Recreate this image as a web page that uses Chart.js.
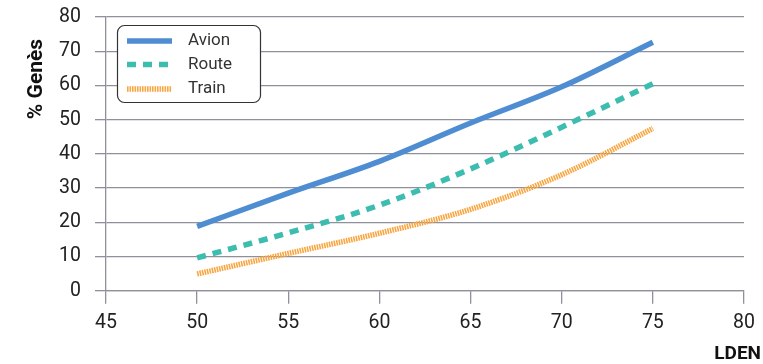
<!DOCTYPE html>
<html>
<head>
<meta charset="utf-8">
<script src="https://cdn.jsdelivr.net/npm/chart.js@4"></script>
<style>
  html, body { margin: 0; padding: 0; background: #fff; }
</style>
</head>
<body>
<canvas id="chart" width="763" height="364"></canvas>
<script>
// LDEN (dB) and % of people annoyed, per transport mode
const lden = [50, 55, 60, 65, 70, 75];
const avion = [18.8, 28.5, 37.8, 49.0, 59.6, 72.6];
const route = [9.6, 16.9, 25.0, 35.6, 47.8, 60.5];
const train = [4.9, 10.9, 16.8, 23.8, 33.9, 47.4];
const xTicks = [45, 50, 55, 60, 65, 70, 75, 80];
const yTicks = [0, 10, 20, 30, 40, 50, 60, 70, 80];

const gridColor = '#8e909b';
const font = 'Roboto';

const toPoints = (vals) => vals.map((v, i) => ({ x: lden[i], y: v }));

// legend in a rounded box + axis titles
const extras = {
    id: 'extras',
    afterDraw(chart) {
        const ctx = chart.ctx;
        ctx.save();

        // y title
        ctx.fillStyle = '#111';
        ctx.font = `bold 21px ${font}`;
        ctx.translate(37, 79);
        ctx.rotate(-Math.PI / 2);
        ctx.textAlign = 'center';
        ctx.textBaseline = 'middle';
        ctx.fillText('% Genès', 0, 0);
        ctx.setTransform(1, 0, 0, 1, 0, 0);

        // x title
        ctx.font = `bold 19px ${font}`;
        ctx.textAlign = 'right';
        ctx.fillText('LDEN', 761, 354);

        // legend box
        ctx.beginPath();
        ctx.roundRect(117.5, 25.5, 143, 77, 7);
        ctx.fillStyle = '#fff';
        ctx.fill();
        ctx.strokeStyle = '#333';
        ctx.lineWidth = 1.2;
        ctx.stroke();

        const rows = [41, 64.5, 89];
        chart.data.datasets.forEach((ds, i) => {
            const y = rows[i];
            ctx.beginPath();
            ctx.setLineDash(ds.borderDash || []);
            ctx.strokeStyle = ds.borderColor;
            ctx.lineWidth = ds.borderWidth;
            ctx.moveTo(127, y);
            ctx.lineTo(172, y);
            ctx.stroke();
            ctx.setLineDash([]);
            ctx.fillStyle = '#333';
            ctx.font = `17px ${font}`;
            ctx.textAlign = 'left';
            ctx.textBaseline = 'middle';
            ctx.fillText(ds.label, 188, y);
        });
        ctx.restore();
    }
};

new Chart(document.getElementById('chart'), {
    type: 'line',
    data: {
        datasets: [
            {
                label: 'Avion',
                data: toPoints(avion),
                borderColor: '#4f8dd3',
                borderWidth: 5.5,
                borderDash: []
            },
            {
                label: 'Route',
                data: toPoints(route),
                borderColor: '#3dbcb0',
                borderWidth: 5.5,
                borderDash: [9, 7]
            },
            {
                label: 'Train',
                data: toPoints(train),
                borderColor: '#f8a640',
                borderWidth: 5.5,
                borderDash: [1.6, 0.9]
            }
        ]
    },
    options: {
        responsive: false,
        animation: false,
        cubicInterpolationMode: 'monotone',
        pointRadius: 0,
        layout: { padding: { top: 17, right: 19, left: 0, bottom: 0 } },
        plugins: {
            legend: { display: false },
            tooltip: { enabled: false }
        },
        scales: {
            x: {
                type: 'linear',
                min: 45,
                max: 80,
                afterBuildTicks: (s) => { s.ticks = xTicks.map(v => ({ value: v })); },
                afterFit: (s) => { s.height = 73.3; s.paddingLeft = 0; s.paddingRight = 0; },
                grid: {
                    drawOnChartArea: false,
                    color: gridColor,
                    lineWidth: 1.3,
                    tickLength: 13
                },
                border: { color: gridColor, width: 1.3 },
                ticks: {
                    color: '#222',
                    font: { family: font, size: 19.5 },
                    padding: 8,
                    maxRotation: 0
                }
            },
            y: {
                min: 0,
                max: 80,
                afterBuildTicks: (s) => { s.ticks = yTicks.map(v => ({ value: v })); },
                afterFit: (s) => { s.width = 106; s.paddingTop = 0; s.paddingBottom = 0; },
                grid: {
                    color: gridColor,
                    lineWidth: 1.3,
                    tickLength: 11
                },
                border: { color: gridColor, width: 1.3 },
                ticks: {
                    color: '#222',
                    font: { family: font, size: 19.5 },
                    padding: 14
                }
            }
        }
    },
    plugins: [extras]
});
</script>
</body>
</html>
